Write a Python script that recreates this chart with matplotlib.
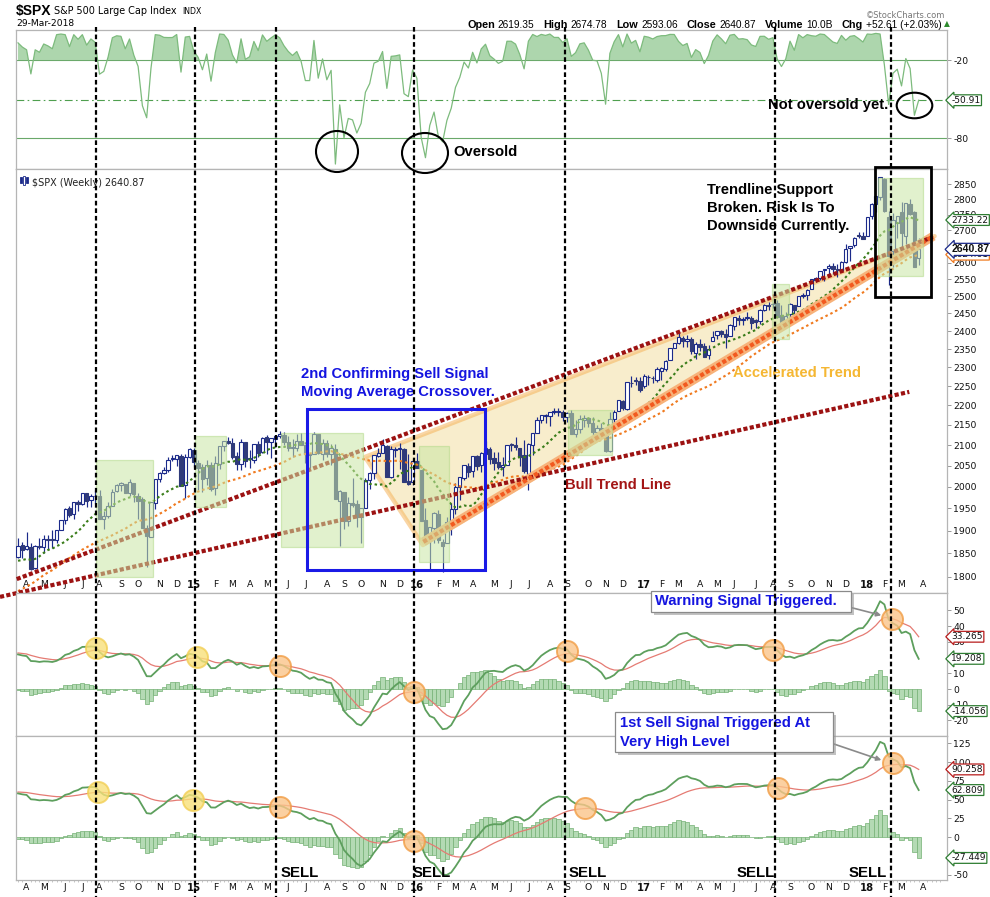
import numpy as np
import pandas as pd
import matplotlib
matplotlib.use("Agg")
import matplotlib.pyplot as plt
from matplotlib.patches import Rectangle, Polygon, Ellipse
from matplotlib.lines import Line2D
from matplotlib.transforms import blended_transform_factory
from matplotlib.ticker import FixedLocator, NullLocator

plt.rcParams['axes.unicode_minus'] = False
plt.rcParams['font.family'] = ['DejaVu Sans']

# ---------------- data ----------------
# weekly closes before the visible window (indicator warm-up)
hist_closes = [1466, 1472, 1486, 1503, 1513, 1518, 1520, 1516, 1518, 1551, 1561, 1557, 1569,
               1553, 1589, 1555, 1582, 1614, 1634, 1667, 1650, 1631, 1643, 1627, 1592, 1606,
               1632, 1680, 1692, 1692, 1710, 1691, 1656, 1664, 1633, 1655, 1688, 1710, 1692,
               1690, 1703, 1745, 1760, 1762, 1771, 1798, 1805, 1806, 1805, 1775, 1818, 1841,
               1831, 1842, 1839, 1790, 1783, 1797, 1839, 1836, 1859, 1878, 1841]

opens = [1841, 1867, 1859, 1863, 1818, 1865, 1864, 1880, 1880, 1878, 1902, 1923, 1950, 1937, 1963, 1961, 1985, 1969, 1978, 1978,
         1925, 1933, 1955, 1991, 2004, 2007, 1986, 2009, 1978, 1970, 1905, 1886, 1963, 2018, 2032, 2039, 2065, 2066, 2074, 2005, 2072,
         2088, 2055, 2046, 2020, 2050, 1997, 2054, 2097, 2110, 2105, 2072, 2055, 2108, 2065, 2064, 2102, 2082, 2119, 2108, 2116,
         2123, 2125, 2108, 2092, 2092, 2110, 2100, 2076, 2079, 2126, 2079, 2104, 2078, 2090, 1966, 1987, 1922, 1961, 1960, 1931,
         1951, 2015, 2033, 2074, 2081, 2097, 2023, 2089, 2090, 2091, 2013, 2010, 2061,
         2039, 1924, 1879, 1906, 1937, 1874, 1872, 1918, 1948, 1999, 2020, 2049, 2038, 2073, 2052, 2078, 2090, 2067, 2058, 2047,
         2052, 2101, 2100, 2092, 2075, 2031, 2100, 2131, 2162, 2173, 2173, 2183, 2184, 2183, 2170, 2180, 2127, 2140, 2162, 2168,
         2154, 2132, 2142, 2129, 2086, 2165, 2186, 2212, 2191, 2259, 2267, 2263,
         2251, 2274, 2272, 2267, 2290, 2295, 2320, 2352, 2367, 2381, 2371, 2378, 2340, 2363, 2357, 2333, 2371, 2388, 2400, 2391,
         2387, 2415, 2437, 2432, 2437, 2437, 2431, 2429, 2459, 2473, 2476, 2479, 2445, 2425, 2447, 2473, 2471, 2502, 2503, 2521,
         2549, 2553, 2578, 2583, 2588, 2580, 2579, 2603, 2645, 2653, 2684, 2682,
         2684, 2747, 2784, 2809, 2867, 2741, 2636, 2723, 2757, 2681, 2783, 2758, 2614]

highs = [1883, 1875, 1897, 1873, 1869, 1884, 1891, 1890, 1902, 1901, 1924, 1950, 1955, 1964, 1969, 1986, 1986, 1984, 1992, 1992,
         1943, 1964, 1994, 2006, 2012, 2007, 2019, 2009, 1985, 1977, 1912, 1965, 2018, 2034, 2046, 2071, 2075, 2076, 2077, 2077, 2094,
         2094, 2064, 2054, 2064, 2058, 2073, 2097, 2111, 2119, 2117, 2082, 2114, 2108, 2089, 2103, 2111, 2120, 2125, 2117, 2124,
         2135, 2133, 2122, 2115, 2127, 2129, 2100, 2081, 2132, 2128, 2114, 2112, 2103, 2103, 1993, 1987, 1976, 2021, 1970, 1951,
         2020, 2034, 2076, 2094, 2116, 2099, 2097, 2095, 2104, 2093, 2077, 2067, 2081,
         2039, 1950, 1909, 1941, 1947, 1882, 1930, 1962, 2009, 2024, 2052, 2056, 2073, 2075, 2084, 2111, 2096, 2084, 2084, 2071,
         2101, 2106, 2120, 2094, 2113, 2104, 2131, 2169, 2176, 2178, 2183, 2194, 2192, 2187, 2184, 2187, 2163, 2176, 2175, 2170,
         2169, 2151, 2155, 2131, 2182, 2189, 2214, 2214, 2260, 2278, 2274, 2273,
         2282, 2280, 2276, 2301, 2300, 2320, 2352, 2368, 2401, 2385, 2390, 2382, 2370, 2378, 2367, 2362, 2399, 2400, 2403, 2406,
         2419, 2440, 2446, 2441, 2454, 2443, 2434, 2464, 2478, 2484, 2480, 2490, 2474, 2454, 2480, 2474, 2501, 2509, 2520, 2552,
         2557, 2575, 2582, 2597, 2599, 2597, 2605, 2658, 2652, 2680, 2695, 2694,
         2743, 2787, 2808, 2873, 2870, 2763, 2755, 2747, 2790, 2787, 2802, 2762, 2675]

lows = [1839, 1840, 1858, 1814, 1816, 1860, 1851, 1859, 1862, 1873, 1901, 1915, 1930, 1925, 1944, 1958, 1953, 1952, 1962, 1925,
        1904, 1928, 1955, 1988, 1991, 1985, 1978, 1965, 1926, 1906, 1821, 1886, 1949, 2010, 2031, 2034, 2062, 2050, 2002, 1973, 2069,
        2047, 1992, 1988, 2005, 1989, 1981, 2042, 2085, 2103, 2067, 2040, 2039, 2046, 2045, 2057, 2072, 2080, 2077, 2068, 2096,
        2117, 2100, 2085, 2072, 2086, 2101, 2057, 2044, 2077, 2078, 2063, 2070, 2052, 1971, 1867, 1903, 1910, 1953, 1908, 1872,
        1951, 1994, 2018, 2070, 2080, 2023, 2020, 2070, 2043, 2012, 2005, 2005, 2044,
        1922, 1878, 1812, 1872, 1872, 1810, 1872, 1891, 1937, 1969, 2015, 2022, 2022, 2039, 2035, 2078, 2053, 2039, 2043, 2026,
        2052, 2085, 2089, 2050, 2032, 1992, 2075, 2131, 2156, 2156, 2148, 2178, 2173, 2160, 2158, 2128, 2120, 2131, 2145, 2145,
        2114, 2125, 2122, 2084, 2084, 2151, 2186, 2187, 2187, 2248, 2254, 2234,
        2245, 2254, 2258, 2260, 2267, 2289, 2320, 2352, 2365, 2356, 2355, 2337, 2323, 2344, 2328, 2322, 2371, 2378, 2383, 2353,
        2386, 2403, 2416, 2416, 2430, 2406, 2408, 2420, 2456, 2459, 2465, 2437, 2418, 2417, 2429, 2447, 2470, 2495, 2489, 2520,
        2541, 2548, 2544, 2567, 2566, 2557, 2576, 2600, 2605, 2647, 2676, 2673,
        2682, 2737, 2760, 2798, 2759, 2533, 2587, 2675, 2648, 2658, 2748, 2586, 2593]

closes = [1866, 1858, 1865, 1816, 1865, 1863, 1881, 1878, 1878, 1901, 1924, 1949, 1936, 1963, 1961, 1985, 1968, 1978, 1978, 1925,
          1932, 1955, 1988, 2003, 2008, 1986, 2010, 1983, 1968, 1906, 1887, 1965, 2018, 2032, 2040, 2064, 2068, 2075, 2002, 2071, 2089,
          2058, 2045, 2019, 2052, 1995, 2055, 2097, 2110, 2105, 2071, 2053, 2108, 2061, 2067, 2102, 2081, 2118, 2108, 2116, 2123,
          2126, 2107, 2093, 2094, 2110, 2101, 2077, 2077, 2127, 2080, 2104, 2078, 2092, 1971, 1989, 1921, 1961, 1958, 1931, 1951,
          2015, 2033, 2075, 2079, 2099, 2023, 2089, 2090, 2092, 2012, 2006, 2061, 2044,
          1922, 1880, 1907, 1940, 1880, 1865, 1918, 1948, 2000, 2022, 2050, 2036, 2073, 2048, 2081, 2092, 2065, 2057, 2047, 2052,
          2099, 2099, 2096, 2071, 2037, 2103, 2130, 2162, 2175, 2174, 2183, 2184, 2184, 2169, 2180, 2128, 2139, 2165, 2168, 2154,
          2133, 2141, 2126, 2085, 2164, 2182, 2213, 2192, 2260, 2258, 2264, 2239,
          2277, 2275, 2271, 2295, 2297, 2316, 2351, 2367, 2383, 2373, 2378, 2344, 2363, 2356, 2329, 2349, 2384, 2399, 2391, 2382,
          2416, 2439, 2432, 2433, 2438, 2423, 2425, 2459, 2473, 2472, 2477, 2441, 2426, 2443, 2477, 2461, 2500, 2502, 2519, 2549,
          2553, 2575, 2581, 2588, 2582, 2579, 2602, 2642, 2652, 2676, 2683, 2674,
          2743, 2786, 2810, 2873, 2762, 2620, 2732, 2747, 2691, 2787, 2752, 2588, 2640.87]

first_week = "2014-03-21"
last_close = 2640.87
header_pairs = [("Open", "2619.35"), ("High", "2674.78"), ("Low", "2593.06"), ("Close", "2640.87"),
                ("Volume", "10.0B"), ("Chg", "+52.61 (+2.03%)")]

# indicator settings
ma_fast, ma_slow = 13, 34
wr_period = 34
macd1_params = (13, 21, 9)
macd2_params = (12, 33, 18)

# annotation positions (week index / values)
signal_weeks = [18.2, 41.3, 60.1, 92.3, 127.5, 176.5, 203.5]
sell_weeks = [65.7, 96.5, 132.9, 172.0, 198.1]
macd1_circles = [(18.2, 26.0, 'y'), (41.8, 20.4, 'y'), (61.2, 14.8, 'o'), (92.4, -2.1, 'o'),
                 (128.0, 24.2, 'o'), (176.0, 24.8, 'o'), (203.7, 44.3, 'o')]
macd2_circles = [(18.7, 60.2, 'y'), (40.9, 50.1, 'y'), (61.2, 40.4, 'o'), (92.4, -5.3, 'o'),
                 (132.2, 39.0, 'o'), (177.2, 65.6, 'o'), (203.9, 98.7, 'o')]
bull_trend = [(-4.2, 1758), (207.8, 2235)]
upper_trend = [(-0.3, 1795), (213.3, 2679)]
accel_trend = [(94.5, 1875), (213.4, 2682)]
wedge = [(80.9, 2071), (213.7, 2682), (94.4, 1868)]
green_boxes = [(18.2, 31.4, 1799, 2064), (41.3, 48.4, 1954, 2122), (61.3, 80.4, 1864, 2130),
               (93.5, 100.5, 1832, 2098), (128.2, 138.5, 2076, 2188), (175.8, 179.8, 2377, 2535),
               (200.6, 210.9, 2560, 2870)]
blue_box = (67.3, 108.9, 1814, 2190)
black_box = (199.8, 212.8, 2499, 2909)

assert len(opens) == len(highs) == len(lows) == len(closes) == 211

# ---------------- indicators ----------------
nh = len(hist_closes)
c_all = pd.Series(hist_closes + closes, dtype=float)
h_all = pd.Series(hist_closes + highs, dtype=float)
l_all = pd.Series(hist_closes + lows, dtype=float)
sma13 = c_all.rolling(ma_fast).mean().values[nh:]
sma34 = c_all.rolling(ma_slow).mean().values[nh:]
hh = h_all.rolling(wr_period, min_periods=1).max()
ll = l_all.rolling(wr_period, min_periods=1).min()
wr = (-100 * (hh - c_all) / (hh - ll)).values[nh:]

def macd(f, s, g):
    m = c_all.ewm(span=f, adjust=False).mean() - c_all.ewm(span=s, adjust=False).mean()
    sg = m.ewm(span=g, adjust=False).mean()
    return m.values[nh:], sg.values[nh:]
m1, s1 = macd(*macd1_params)
m2, s2 = macd(*macd2_params)

x = np.arange(len(closes))

# ---------------- figure ----------------
W, H = 990, 897
fig = plt.figure(figsize=(9.9, 8.97), dpi=100)
def fx(px): return px / W
def fy(py): return 1 - py / H
L, R = 16, 947
def add_ax(top, bottom):
    return fig.add_axes([fx(L), fy(bottom), (R - L) / W, (bottom - top) / H])
ax1 = add_ax(30, 169)
ax2 = add_ax(169, 593)
ax3 = add_ax(593, 736)
ax4 = add_ax(736, 880)

xlim = (-0.47, 216.6)
frame_c = '#b5b5b5'
for ax in (ax1, ax2, ax3, ax4):
    ax.set_xlim(*xlim)
    for sp in ax.spines.values():
        sp.set_color(frame_c)
        sp.set_linewidth(0.9)
    ax.yaxis.tick_right()
    ax.tick_params(axis='y', which='major', length=3, width=0.7, color='#999999',
                   labelsize=6.7, pad=1.5, labelcolor='#111111')
    ax.tick_params(axis='x', which='both', length=0)
    ax.set_xticks([])
    ax.set_facecolor('white')

# month ticks
dates_ext = pd.date_range(first_week, periods=len(closes) + 4, freq='7D')
mpos, mlab, mbold = [], [], []
for i in range(1, len(dates_ext)):
    if dates_ext[i].month != dates_ext[i - 1].month and i <= xlim[1]:
        mpos.append(i)
        if dates_ext[i].month == 1:
            mlab.append(f"{dates_ext[i].year % 100:02d}")
            mbold.append(True)
        else:
            mlab.append(dates_ext[i].strftime('%b')[0])
            mbold.append(False)

for ax, pad in ((ax2, -9.5), (ax4, 2.0)):
    ax.set_xticks(mpos)
    ax.set_xticklabels(mlab)
    ax.tick_params(axis='x', which='major', length=0, pad=pad, labelsize=6.7, labelcolor='#111111')
    for t, b in zip(ax.get_xticklabels(), mbold):
        if b:
            t.set_fontweight('bold')
            t.set_fontsize(7.2)
    ax.set_xticks(np.arange(0, 216), minor=True)
    ax.tick_params(axis='x', which='minor', length=1.5, width=0.6, color='#bbbbbb', direction='out')

def tag(ax, y, txt, ec, bold=False):
    if bold:
        kw = dict(fontsize=7.6, fontweight='bold', family=['Liberation Sans'])
    else:
        kw = dict(fontsize=6.5)
    ax.annotate(txt, xy=(1.0, y), xycoords=('axes fraction', 'data'), xytext=(3.2, 0),
                textcoords='offset points', ha='left', va='center', color='#111111',
                bbox=dict(boxstyle='larrow,pad=0.1', fc='white', ec=ec, lw=0.9),
                annotation_clip=False, zorder=20, **kw)

# ---------- top panel: Williams %R ----------
ax1.set_ylim(-103.8, 3.1)
ax1.plot(x, wr, color='#7dbb7d', lw=0.9, zorder=3)
ax1.fill_between(x, wr, -20, where=wr > -20, interpolate=True, color='#9fcf9f', alpha=0.85, lw=0, zorder=2)
ax1.axhline(-20, color='#6aa86a', lw=0.8, zorder=1)
ax1.axhline(-80, color='#6aa86a', lw=0.8, zorder=1)
ax1.axhline(wr[-1], color='#4f9f4f', lw=0.8, ls=(0, (7, 3, 1.5, 3)), zorder=1)
ax1.yaxis.set_major_locator(FixedLocator([-20, -80]))
tag(ax1, wr[-1], f"{wr[-1]:.2f}", '#2e7d32')

# ---------- main panel ----------
ax2.set_yscale('log')
ax2.set_ylim(1766, 2901.5)
pt = list(range(1800, 2851, 50))
ax2.yaxis.set_major_locator(FixedLocator(pt))
ax2.yaxis.set_minor_locator(NullLocator())
ax2.set_yticklabels([str(v) for v in pt])
ax2.yaxis.set_minor_formatter(plt.NullFormatter())

ax2.add_patch(Polygon(wedge, closed=True, fc='#f3dc9a', ec='none', alpha=0.5, zorder=1))
ax2.add_patch(Polygon(wedge, closed=True, fill=False, ec='#f5b45c', lw=3.2, alpha=0.55,
                      zorder=1.5, joinstyle='round'))

navy = '#1b2a8a'
downc = '#2f3a7a'
ax2.vlines(x, lows, highs, color=navy, lw=0.85, zorder=3)
o = np.array(opens, float)
c = np.array(closes, float)
up = c >= o
ax2.bar(x[up], np.abs(c - o)[up] + 0.5, bottom=np.minimum(o, c)[up], width=0.78,
        color='white', edgecolor=navy, linewidth=0.8, zorder=4)
ax2.bar(x[~up], np.abs(c - o)[~up] + 0.5, bottom=np.minimum(o, c)[~up], width=0.78,
        color=downc, edgecolor=downc, linewidth=0.8, zorder=4)

ax2.plot(x, sma13, color='#3a7d1a', lw=1.5, ls=(0, (1.2, 1.4)), zorder=5)
ax2.plot(x, sma34, color='#f07a1f', lw=1.5, ls=(0, (1.2, 1.4)), zorder=5)

def tline(pts, color, lw, dash, z, clip=True):
    ln, = ax2.plot([p[0] for p in pts], [p[1] for p in pts], color=color, lw=lw,
                   ls=(0, dash), solid_capstyle='butt', dash_capstyle='butt', zorder=z)
    ln.set_clip_on(clip)
    return ln

tline(bull_trend, '#9c1212', 3.0, (1.0, 0.55), 6, clip=False)
tline(upper_trend, '#9c1212', 3.0, (1.0, 0.55), 6, clip=False)
tline(accel_trend, '#f7b27a', 6.5, (1, 0), 5.5)
tline(accel_trend, '#f25a20', 3.0, (1.0, 0.55), 6)

for x0, x1, y0, y1 in green_boxes:
    ax2.add_patch(Rectangle((x0, y0), x1 - x0, y1 - y0, fc='#c9e6a4', ec='#b3d98a', lw=0.9,
                            alpha=0.55, zorder=7))
x0, x1, y0, y1 = blue_box
ax2.add_patch(Rectangle((x0, y0), x1 - x0, y1 - y0, fill=False, ec='#1a1ae6', lw=2.2, zorder=8))
x0, x1, y0, y1 = black_box
r = Rectangle((x0, y0), x1 - x0, y1 - y0, fill=False, ec='black', lw=2.0, zorder=8)
r.set_clip_on(False)
ax2.add_patch(r)

tag(ax2, sma34[-1], f"{sma34[-1]:.2f}", '#f07a1f')
tag(ax2, sma13[-1], f"{sma13[-1]:.2f}", '#2e7d32')
tag(ax2, last_close, f"{last_close:.2f}", navy, bold=True)

ax2.text(0.017, 0.978, f"$SPX (Weekly) {last_close:.2f}", transform=ax2.transAxes,
         fontsize=6.9, va='top', ha='left', color='#222222')
for k, (yb, hb, filled) in enumerate([(0.968, 0.012, True), (0.963, 0.02, False), (0.966, 0.014, True)]):
    ax2.add_patch(Rectangle((0.004 + k * 0.0032, yb), 0.0022, hb, transform=ax2.transAxes,
                            fc=navy if filled else 'white', ec=navy, lw=0.6, zorder=9))

# ---------- MACD panels ----------
def macd_panel(ax, m, s, ylim, ticks, circles):
    ax.set_ylim(*ylim)
    h = m - s
    ax.bar(x, h, width=1.0, color='#b4dab4', edgecolor='#74b074', linewidth=0.5, zorder=2)
    ax.plot(x, s, color='#e57b73', lw=0.9, zorder=3)
    ax.plot(x, m, color='#5d9f5d', lw=1.3, zorder=4)
    ax.yaxis.set_major_locator(FixedLocator(ticks))
    for cx, cy, kind in circles:
        if kind == 'y':
            fc, ec = '#f8e07a', '#f2cf55'
        else:
            fc, ec = '#fbc58a', '#f19d45'
        ax.scatter([cx], [cy], s=230, facecolor=fc, edgecolor=ec, linewidths=1.4, alpha=0.8,
                   zorder=6, clip_on=False)
    tag(ax, s[-1], f"{s[-1]:.3f}", '#b71c1c')
    tag(ax, m[-1], f"{m[-1]:.3f}", '#2e7d32')
    tag(ax, h[-1], f"{h[-1]:.3f}", '#2e7d32')

macd_panel(ax3, m1, s1, (-29.9, 61.1), [50, 40, 30, 20, 10, 0, -10, -20], macd1_circles)
macd_panel(ax4, m2, s2, (-56.8, 134.7), [125, 100, 75, 50, 25, 0, -25, -50], macd2_circles)

# ---------- signal lines (dashed verticals) ----------
btr = blended_transform_factory(ax2.transData, fig.transFigure)
for sx in signal_weeks:
    fig.add_artist(Line2D([sx, sx], [fy(27), 0], transform=btr, color='black', lw=1.6,
                          ls=(0, (2.1, 1.3)), zorder=30))
for sx in sell_weeks:
    fig.text(sx, fy(873), "SELL", transform=btr, ha='center', va='center', fontsize=10.8,
             fontweight='bold', family=['Liberation Sans'], color='black', zorder=31)

# ---------- text & annotations ----------
def ftext(px, py, s, **kw):
    return fig.text(fx(px), fy(py), s, **kw)

bold_font = dict(family=['Liberation Sans'], fontweight='bold', fontsize=10.6)
ftext(16, 11, "$SPX", fontsize=10, fontweight='bold', family=['Liberation Sans'], va='center')
ftext(54, 11, "S&P 500 Large Cap Index", fontsize=6.9, va='center')
ftext(182, 11.5, "INDX", fontsize=5.6, va='center')
ftext(16, 23.5, "29-Mar-2018", fontsize=6.6, va='center')
ftext(945, 15, "\u00a9StockCharts.com", fontsize=6.0, va='center', ha='right', color='#777777')

renderer = fig.canvas.get_renderer()
cur = 467
for j, (lab, val) in enumerate(header_pairs):
    t = ftext(cur, 24.5, lab, fontsize=7.8, fontweight='bold', family=['Liberation Sans'], va='center')
    cur += t.get_window_extent(renderer).width + 3
    t = ftext(cur, 24.5, val, fontsize=7.3, family=['Liberation Sans'], va='center')
    cur += t.get_window_extent(renderer).width + (9 if j < len(header_pairs) - 1 else 2)
ftext(cur, 24, "\u25b2", fontsize=5.5, color='#2e8b2e', va='center')

ftext(453, 152, "Oversold", color='black', va='center', **bold_font)
ftext(768, 105, "Not oversold yet.", color='black', va='center', **bold_font)
for cx, cy, w, h in [(337, 151.5, 42, 41), (425, 153, 46, 40), (914.5, 105.5, 35.6, 25.6)]:
    fig.add_artist(Ellipse((fx(cx), fy(cy)), w / W, h / H, transform=fig.transFigure,
                           fill=False, ec='black', lw=1.5, zorder=25))

ftext(707, 190, "Trendline Support", color='black', va='center', **bold_font)
ftext(707, 208, "Broken. Risk Is To", color='black', va='center', **bold_font)
ftext(707, 226, "Downside Currently.", color='black', va='center', **bold_font)
ftext(301, 374, "2nd Confirming Sell Signal", color='#1414e0', va='center', **bold_font)
ftext(301, 392, "Moving Average Crossover.", color='#1414e0', va='center', **bold_font)
ftext(733, 373, "Accelerated Trend", color='#f5b733', va='center', **bold_font)
ftext(565, 485, "Bull Trend Line", color='#a31515', va='center', **bold_font)

def callout(x0, y0, x1, y1, lines, tx, tys, tip):
    fig.add_artist(Rectangle((fx(x0 + 3), fy(y1 + 3)), (x1 - x0) / W, (y1 - y0) / H,
                             transform=fig.transFigure, fc='#9a9a9a', ec='none', alpha=0.6, zorder=26))
    fig.add_artist(Rectangle((fx(x0), fy(y1)), (x1 - x0) / W, (y1 - y0) / H,
                             transform=fig.transFigure, fc='white', ec='#8a8a8a', lw=0.9, zorder=27))
    for s, ty in zip(lines, tys):
        t = ftext(tx, ty, s, color='#1414e0', va='center', **bold_font)
        t.set_zorder(28)
    ax4.annotate('', xy=(tip[2], H - tip[3]), xycoords='figure pixels',
                 xytext=(tip[0], H - tip[1]), textcoords='figure pixels',
                 arrowprops=dict(arrowstyle='-|>', color='#8a8a8a', lw=1.2, mutation_scale=7),
                 annotation_clip=False, zorder=28)

callout(651, 591, 851, 612, ["Warning Signal Triggered."], 655, [601.5], (845, 606, 884, 616))
callout(615, 712, 833, 752, ["1st Sell Signal Triggered At", "Very High Level"], 620, [723, 742],
        (828, 742, 884, 761))

fig.savefig("out.png", dpi=100)
